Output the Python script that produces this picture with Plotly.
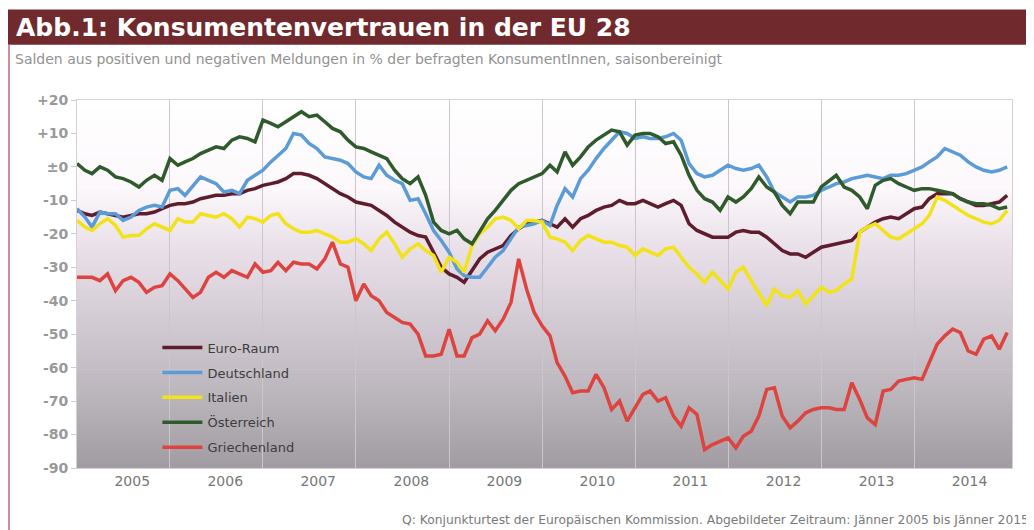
import pandas as pd
import plotly.graph_objects as go

# monthly values Jan 2005 - Jan 2015
months = pd.date_range("2005-01-01", "2015-01-01", freq="MS")

euro_raum = [-13, -14, -14.5, -13.5, -14, -14.5, -15, -14.5, -14, -14, -13.5, -12.5,
             -11.5, -11, -11, -10.5, -9.5, -9, -8.5, -8.5, -8, -8, -7, -6.5,
             -5.5, -5, -4.5, -3.5, -2, -2, -2.5, -3.5, -5, -6.5, -8, -9,
             -10.5, -11, -11.5, -13, -14.5, -16.5, -18, -19.5, -20.5, -21, -25.5, -30,
             -32, -33, -34.5, -31, -27.5, -25.5, -24.5, -23.5, -20.5, -18.5, -17, -16.5,
             -16, -17, -18, -15.5, -18, -15.5, -14.5, -13, -12, -11.5, -10, -11,
             -11, -10, -11, -12, -11, -10, -11.5, -17, -19, -20, -21, -21,
             -21, -19.5, -19, -19.5, -19.5, -21, -23, -25, -26, -26, -27, -25.5,
             -24, -23.5, -23, -22.5, -22, -19.5, -18, -16.5, -15.5, -15, -15.5, -14,
             -12.5, -12, -9.5, -8, -8, -8, -9.5, -10.5, -11.5, -11.5, -11, -10.5,
             -8.5]

deutschland = [-12.5, -15, -18, -13.5, -14, -14, -16, -15, -13, -12, -11.5, -12,
               -7, -6.5, -8.5, -5.5, -3, -4, -5, -7.5, -7, -8, -4, -2.5,
               -1, 1.5, 3.5, 5.5, 10, 9.5, 7, 5.5, 3, 2.5, 2, 1,
               -1.5, -3, -3.5, 0.5, -2.5, -4, -5, -10, -9.5, -14, -19, -22,
               -25.5, -30.5, -32.5, -33, -33, -30, -27, -25, -21.5, -18, -17.5, -17,
               -16, -17.5, -11.5, -6.5, -9, -3.5, -1, 2.5, 5.5, 8, 10.5, 10,
               8.5, 9, 8.5, 8.5, 9, 10, 8, 1, -2, -3, -2.5, -1,
               0.5, -0.5, -1, -0.5, 0.5, -3, -7.5, -9, -10.5, -9, -9, -8.5,
               -7, -6, -5, -4.5, -3.5, -3, -2.5, -3, -3.5, -2.5, -2.5, -2,
               -1, 0, 1.5, 3, 5.5, 4.5, 3.5, 1.5, 0, -1, -1.5, -1,
               0]

italien = [-16, -18, -19, -17, -15.5, -17.5, -21, -20.5, -20.5, -18.5, -17, -18,
           -19, -15.5, -16.5, -16.5, -14, -14.5, -15, -14, -15.5, -18, -15, -15.5,
           -16.5, -14.5, -14, -17, -18.5, -19.5, -19.5, -19, -20, -21, -22.5, -22.5,
           -21.5, -23, -25, -21.5, -19.5, -23, -27, -24.5, -23, -25, -26.5, -31.5,
           -27, -28.5, -31.5, -23.5, -20, -18, -15.5, -15, -16, -18.5, -16, -16,
           -16.5, -21, -21.5, -22.5, -25, -22, -20.5, -21.5, -22.5, -22.5, -23.5, -24,
           -26.5, -24.5, -25.5, -26.5, -24.5, -24, -27, -30, -32, -34.5, -31.5, -34,
           -36.5, -31.5, -30, -34, -37.5, -41.5, -36.5, -38.5, -39, -37, -41, -38.5,
           -36, -37.5, -37, -35, -33.5, -19.5, -18, -17, -19, -21, -21.5, -20,
           -18.5, -17, -14.5, -9, -10, -11.5, -13, -14.5, -15.5, -16.5, -17, -16,
           -13]

oesterreich = [1, -1, -2, 0, -1, -3, -3.5, -4.5, -6, -4, -2.5, -4,
               2.5, 0.5, 1.5, 2.5, 4, 5, 6, 5.5, 8, 9, 8.5, 7.5,
               14, 13, 12, 13.5, 15, 16.5, 15, 15.5, 13.5, 11.5, 10.5, 8,
               6, 5.5, 4.5, 3.5, 2.5, -1, -3.5, -5, -3, -8.5, -16.5, -19,
               -20, -19, -21.5, -23, -19.5, -15.5, -13, -10, -7, -5, -4, -3,
               -2, 0.5, -1.5, 4.5, 0.5, 3, 6, 8, 9.5, 11, 10.5, 6.5,
               9.5, 10, 10, 9, 7, 7.5, 3.5, -2.5, -7, -9.5, -10.5, -13,
               -9, -10.5, -9, -6.5, -3, -6, -7.5, -11.5, -14, -10.5, -10.5, -10.5,
               -6, -4, -2.5, -6, -7, -9, -12.5, -5.5, -4, -3.5, -5, -6,
               -7, -6.5, -6.5, -7, -7.5, -8, -9.5, -10.5, -11, -11, -11.5, -12.5,
               -12]

griechenland = [-33, -33, -33, -34, -32, -37, -34, -33, -34.5, -37.5, -36, -35.5,
                -32, -34, -36.5, -39, -37.5, -33, -31.5, -33, -31, -32, -33, -29,
                -31.5, -31, -28.5, -31, -28.5, -29, -29, -30.5, -27.5, -22.5, -29, -30,
                -40, -35, -38.5, -40, -43.5, -45, -46.5, -47, -50, -56.5, -56.5, -56,
                -48.5, -56.5, -56.5, -51, -50, -46, -49, -45.5, -40.5, -27.5, -36.5, -43.5,
                -47.5, -50.5, -58.5, -62.5, -67.5, -67, -67, -62, -66, -72.5, -70, -76,
                -72, -68, -67, -70, -69, -74.5, -77.5, -72, -74, -84.5, -83, -82,
                -81, -84, -80.5, -79, -74.5, -66.5, -66, -74.5, -78, -76, -73.5, -72.5,
                -72, -72, -72.5, -72.5, -64.5, -69.5, -75, -77, -67, -66.5, -64, -63.5,
                -63, -63.5, -58.5, -53, -50.5, -48.5, -49.5, -55, -56, -51.5, -50.5, -54.5,
                -49.5]

years = list(range(2005, 2015))
y_ticks = [20, 10, 0, -10, -20, -30, -40, -50, -60, -70, -80, -90]
y_labels = ["+20", "+10", "±0", "-10", "-20", "-30", "-40", "-50", "-60", "-70", "-80", "-90"]

series = [
    ("Euro-Raum", euro_raum, "#5e1c2c"),
    ("Deutschland", deutschland, "#5b9bd8"),
    ("Italien", italien, "#f2e318"),
    ("Österreich", oesterreich, "#2f5a2c"),
    ("Griechenland", griechenland, "#dd4440"),
]

fig = go.Figure()
for name, vals, col in series:
    fig.add_trace(go.Scatter(x=months, y=vals, mode="lines", name=name, legendgroup=name,
                             line=dict(color=col, width=3.5)))


# background gradient of the plot area (white on top, grey at the bottom)
def mix(c1, c2, t):
    a = [int(c1[k:k + 2], 16) for k in (1, 3, 5)]
    b = [int(c2[k:k + 2], 16) for k in (1, 3, 5)]
    return "#" + "".join(f"{round(a[j] + (b[j] - a[j]) * t):02x}" for j in range(3))


stops = [(0.0, "#a19ca2"), (0.2, "#bbb5bc"), (0.42, "#d5cdd6"), (0.6, "#eae0e9"),
         (0.76, "#fcf8fb"), (1.0, "#ffffff")]
n_bands = 90
for k in range(n_bands):
    pos = (k + 0.5) / n_bands
    for (p0, c0), (p1, c1) in zip(stops[:-1], stops[1:]):
        if p0 <= pos <= p1:
            col = mix(c0, c1, (pos - p0) / (p1 - p0))
            break
    fig.add_shape(type="rect", xref="x domain", yref="y domain", x0=0, x1=1,
                  y0=k / n_bands, y1=(k + 1) / n_bands + 0.002,
                  fillcolor=col, line_width=0, layer="below")

# title bar and left frame line (paper coords are relative to the plot area)
fig.add_shape(type="rect", xref="paper", yref="paper", x0=-0.074, x1=1.03, y0=1.150, y1=1.246,
              fillcolor="#702a2e", line_width=0)
fig.add_shape(type="line", xref="paper", yref="paper", x0=-0.0727, x1=-0.0727, y0=-0.2, y1=1.15,
              line=dict(color="#c98d9c", width=2))

fig.add_annotation(text="<b>Abb.1: Konsumentenvertrauen in der EU 28</b>", xref="paper", yref="paper",
                   x=-0.067, y=1.197, xanchor="left", yanchor="middle", showarrow=False,
                   font=dict(family="DejaVu Sans", size=25, color="#ffffff"))
fig.add_annotation(text="Salden aus positiven und negativen Meldungen in % der befragten KonsumentInnen, saisonbereinigt",
                   xref="paper", yref="paper", x=-0.068, y=1.112, xanchor="left", yanchor="middle",
                   showarrow=False, font=dict(family="DejaVu Sans", size=14, color="#929292"))
fig.add_annotation(text="Q: Konjunkturtest der Europäischen Kommission. Abgebildeter Zeitraum: Jänner 2005 bis Jänner 2015",
                   xref="paper", yref="paper", x=1.02, y=-0.141, xanchor="right", yanchor="middle",
                   showarrow=False, font=dict(family="DejaVu Sans", size=12.3, color="#7a7a7a"))

fig.update_xaxes(type="date", range=["2005-01-01", "2015-01-20"],
                 tickvals=[f"{y}-08-06" for y in years], ticktext=[str(y) for y in years],
                 ticks="", showgrid=False, zeroline=False,
                 showline=True, linecolor="#d4d0d4", linewidth=1, mirror=True,
                 tickfont=dict(family="DejaVu Sans", size=14, color="#777777"),
                 minor=dict(tickvals=[f"{y}-01-01" for y in years[1:]], showgrid=True,
                            gridcolor="#cdc5cd", gridwidth=1, ticks=""))
fig.update_yaxes(range=[-90, 20], tickvals=y_ticks, ticktext=[f"<b>{t}</b>" for t in y_labels],
                 ticks="outside", ticklen=5, tickcolor="#cccccc", showgrid=False, zeroline=False,
                 showline=True, linecolor="#d4d0d4", linewidth=1, mirror=True,
                 tickfont=dict(family="DejaVu Sans", size=14, color="#999999"))

# the page body has an 8px margin, so the figure is 8px smaller than the window
fig.update_layout(
    width=1026, height=522,
    margin=dict(l=69, r=22, t=92, b=62),
    paper_bgcolor="#ffffff", plot_bgcolor="#ffffff",
    legend=dict(x=0.086, y=0.368, xanchor="left", yanchor="top", bgcolor="rgba(0,0,0,0)",
                traceorder="grouped", tracegroupgap=5, itemwidth=40,
                font=dict(family="DejaVu Sans", size=13, color="#3c3c3c")),
)

fig.write_html("out.html")
